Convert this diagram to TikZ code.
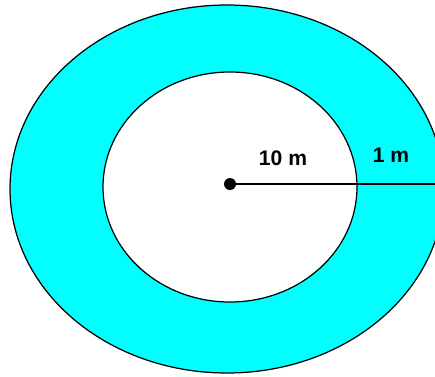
\documentclass[tikz,border=0pt]{standalone}
\usepackage{fontspec}
\setmainfont{Liberation Sans}
\definecolor{ringcyan}{RGB}{0,255,255}
\usetikzlibrary{positioning}

\begin{document}
\begin{tikzpicture}[x=0.02cm,y=-0.02cm]
  \useasboundingbox (0,0) rectangle (435,376);
  \clip (0,0) rectangle (435,376);
  %% Path (outer ellipse) and garden (inner ellipse)
  \draw[fill=ringcyan,line width=0.7pt] (227,189) ellipse [x radius=217,y radius=184];
  \draw[fill=white,line width=0.7pt] (230,187) ellipse [x radius=127,y radius=115];

  %% Centre dot and radius line
  \node[circle,fill=black,inner sep=0pt,minimum size=0.24cm] (ctr) at (230,184) {};
  \coordinate (rim) at (436,184);
  \draw[line width=0.7pt] (ctr.center) -- (rim);

  %% Labels
  \node[font=\bfseries\fontsize{12}{14}\selectfont] (lab10) at (283,158) {10 m};
  \node[font=\bfseries\fontsize{12}{14}\selectfont] (lab1) at (391,155) {1 m};
\end{tikzpicture}
\end{document}
